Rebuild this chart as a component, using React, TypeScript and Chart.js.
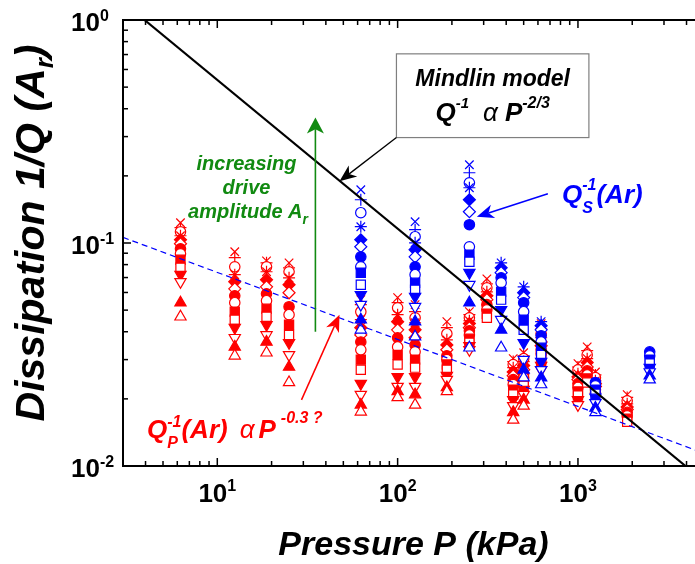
import React, { useEffect, useRef } from 'react';
import { Chart, registerables } from 'chart.js';

Chart.register(...registerables);

const FONT = '"Liberation Sans", Arial, Helvetica, sans-serif';
const RED = '#ff0000';
const BLUE = '#0000ff';
const GREEN = '#118a11';

// ---------- data: Q_P^-1 (red), one list per pressure column, values from lowest to highest drive amplitude ----------
const qpPressures = [6.25, 12.5, 18.75, 25, 62.5, 100, 125, 187.5, 250, 312.5, 437.5, 500, 625, 1000, 1125, 1250, 1875];
const qpAt6 = [0.0467, 0.054, 0.067, 0.0721, 0.0774, 0.0841, 0.0895, 0.0942, 0.0992, 0.1034, 0.1078, 0.1123, 0.1171, 0.1233];
const qpAt12 = [0.0312, 0.0342, 0.0376, 0.0417, 0.0453, 0.0492, 0.054, 0.058, 0.0623, 0.067, 0.0721, 0.0782, 0.0859, 0.0914];
const qpAt19 = [0.0322, 0.036, 0.0387, 0.043, 0.0467, 0.0507, 0.0551, 0.0592, 0.0636, 0.0684, 0.0743, 0.0782, 0.0815, 0.0832];
const qpAt25 = [0.0237, 0.0278, 0.0315, 0.0357, 0.0387, 0.043, 0.0477, 0.0518, 0.0598, 0.065, 0.0698, 0.0743, 0.0774, 0.0815];
const qpAt62 = [0.0175, 0.0188, 0.0209, 0.0234, 0.027, 0.03, 0.0332, 0.036, 0.0387, 0.0417, 0.0453, 0.0492, 0.0529, 0.0557];
const qpAt100 = [0.0203, 0.0216, 0.0227, 0.0251, 0.0285, 0.0315, 0.0342, 0.0376, 0.0408, 0.0444, 0.0477, 0.0512, 0.054, 0.0569];
const qpAt125 = [0.0188, 0.0209, 0.0227, 0.0251, 0.0276, 0.03, 0.0325, 0.0349, 0.0376, 0.0408, 0.0439, 0.0462, 0.0492, 0.0529];
const qpAt188 = [0.0216, 0.0225, 0.0244, 0.0254, 0.027, 0.0285, 0.03, 0.0312, 0.0332, 0.0349, 0.0368, 0.0392, 0.0417, 0.0444];
const qpAt250 = [null, null, 0.0332, 0.0346, 0.0357, 0.0372, 0.0387, 0.0404, 0.0417, 0.0435, 0.0448, 0.0462, 0.0477, 0.0492];
const qpAt312 = [null, null, null, null, 0.0462, 0.0482, 0.0502, 0.0529, 0.0557, 0.058, 0.0604, 0.063, 0.0656, 0.0691];
const qpAt438 = [0.0161, 0.0174, 0.0186, 0.0198, 0.0209, 0.022, 0.0232, 0.0244, 0.0254, 0.0264, 0.0276, 0.0285, 0.0294, 0.0303];
const qpAt500 = [0.0186, 0.0198, 0.0209, 0.022, 0.0229, 0.0239, 0.0249, 0.0259, 0.027, 0.0282, 0.0294, 0.0303, 0.0312, 0.0322];
const qpAt625 = [null, null, 0.027, 0.0282, 0.0294, 0.0306, 0.0319, 0.0332, 0.0346, 0.036, 0.0376, 0.0392, 0.0412, 0.0435];
const qpAt1000 = [null, null, 0.0188, 0.0198, 0.0207, 0.0216, 0.0225, 0.0234, 0.0244, 0.0251, 0.0259, 0.027, 0.0278, 0.0288];
const qpAt1125 = [null, null, null, null, 0.0237, 0.0247, 0.0256, 0.0267, 0.0278, 0.0291, 0.0303, 0.0315, 0.0329, 0.0342];
const qpAt1250 = [null, null, null, null, null, null, 0.0213, 0.022, 0.0227, 0.0234, 0.0241, 0.0249, 0.0256, 0.0264];
const qpAt1875 = [null, null, null, null, 0.0158, 0.0163, 0.0168, 0.0174, 0.0179, 0.0184, 0.019, 0.0196, 0.0203, 0.0209];
const qpColumns = [qpAt6, qpAt12, qpAt19, qpAt25, qpAt62, qpAt100, qpAt125, qpAt188, qpAt250, qpAt312, qpAt438, qpAt500, qpAt625, qpAt1000, qpAt1125, qpAt1250, qpAt1875];

// ---------- data: Q_S^-1 (blue) ----------
const qsPressures = [62.5, 125, 250, 375, 500, 625, 1250, 2500];
const qsAt62 = [0.0408, 0.0453, 0.0529, 0.0586, 0.065, 0.0736, 0.0782, 0.0867, 0.0962, 0.1034, 0.1183, 0.1367, 0.1563, 0.1733];
const qsAt125 = [0.038, 0.0444, 0.0518, 0.0575, 0.0617, 0.0663, 0.0721, 0.0782, 0.0867, 0.0933, 0.1002, 0.1067, 0.1147, 0.1246];
const qsAt250 = [0.0339, 0.054, 0.065, 0.0736, 0.0824, 0.0886, 0.0962, 0.1208, 0.1381, 0.1563, 0.1769, 0.1863, 0.2066, 0.2243];
const qsAt375 = [0.0339, 0.0408, 0.0453, 0.0502, 0.0557, 0.0604, 0.0663, 0.0698, 0.0736, 0.0774, 0.0815, null, null, null];
const qsAt500 = [0.0249, 0.027, 0.03, 0.0357, 0.0408, 0.0453, 0.0492, 0.054, 0.0569, 0.0598, 0.0636, null, null, null];
const qsAt625 = [0.0232, 0.0249, 0.027, 0.0294, 0.0315, 0.0339, 0.036, 0.0384, 0.0408, 0.0426, 0.0444, null, null, null];
const qsAt1250 = [0.0174, 0.0182, 0.0192, 0.0203, 0.0211, 0.022, 0.0229, 0.0237, null, null, null, null, null, null];
const qsAt2500 = [0.0244, 0.0254, 0.0264, 0.0276, 0.0288, 0.03, 0.0312, 0.0325, null, null, null, null, null, null];
const qsColumns = [qsAt62, qsAt125, qsAt250, qsAt375, qsAt500, qsAt625, qsAt1250, qsAt2500];

// ---------- model lines ----------
const mindlinP = [3.95, 3950];
const mindlinQ = [1, 0.01];
const fitP = [3, 5000];
const fitQ = [0.106, 0.0114];

// ---------- axes ----------
const xMin = 3;
const xMax = 5000;
const yMin = 0.01;
const yMax = 1;
const xMajorTicks = [10, 100, 1000];
const xTickExponents = ['1', '2', '3'];
const yMajorTicks = [0.01, 0.1, 1];
const yTickExponents = ['-2', '-1', '0'];

const markerStyles = [
  { style: 'triangle', fill: false, rot: 0, r: 6.5 },
  { style: 'triangle', fill: true, rot: 0, r: 6.5 },
  { style: 'triangle', fill: false, rot: 180, r: 6.5 },
  { style: 'triangle', fill: true, rot: 180, r: 6.5 },
  { style: 'rect', fill: false, rot: 0, r: 6.5 },
  { style: 'rect', fill: true, rot: 0, r: 6.5 },
  { style: 'circle', fill: false, rot: 0, r: 5.2 },
  { style: 'circle', fill: true, rot: 0, r: 5.2 },
  { style: 'rectRot', fill: false, rot: 0, r: 6 },
  { style: 'rectRot', fill: true, rot: 0, r: 6 },
  { style: 'star', fill: false, rot: 0, r: 6 },
  { style: 'circle', fill: false, rot: 0, r: 5.2 },
  { style: 'cross', fill: false, rot: 0, r: 6 },
  { style: 'crossRot', fill: false, rot: 0, r: 6 },
];

function levelDatasets(pressures: number[], columns: (number | null)[][], color: string, name: string) {
  return markerStyles.map((m, lvl) => ({
    label: `${name} ${lvl}`,
    data: pressures
      .map((p, i) => ({ x: p, y: columns[i][lvl] }))
      .filter((d) => d.y !== null && d.y !== undefined),
    showLine: false,
    pointStyle: m.style,
    pointRadius: m.r,
    pointRotation: m.rot,
    pointBorderWidth: 1.2,
    borderColor: color,
    pointBorderColor: color,
    backgroundColor: m.fill ? color : '#ffffff',
    pointBackgroundColor: m.fill ? color : '#ffffff',
  }));
}

type Seg =
  | { t: string; size: number; dy?: number; bold?: boolean; italic?: boolean }
  | { gap: number }
  | { sup: string; sub: string; size: number; supDy: number; subDy: number; bold?: boolean; italic?: boolean };

function fontStr(size: number, bold = true, italic = true) {
  return `${italic ? 'italic ' : ''}${bold ? 'bold ' : ''}${size}px ${FONT}`;
}

function drawRich(ctx: CanvasRenderingContext2D, segs: Seg[], x: number, y: number, align: 'left' | 'center' | 'right', color: string) {
  const widths = segs.map((s: any) => {
    if ('gap' in s) return s.gap;
    if ('sup' in s) {
      ctx.font = fontStr(s.size, s.bold !== false, s.italic !== false);
      return Math.max(ctx.measureText(s.sup).width, ctx.measureText(s.sub).width);
    }
    ctx.font = fontStr(s.size, s.bold !== false, s.italic !== false);
    return ctx.measureText(s.t).width;
  });
  const total = widths.reduce((a, b) => a + b, 0);
  let cx = align === 'left' ? x : align === 'center' ? x - total / 2 : x - total;
  ctx.fillStyle = color;
  ctx.textAlign = 'left';
  ctx.textBaseline = 'alphabetic';
  segs.forEach((s: any, i) => {
    if ('sup' in s) {
      ctx.font = fontStr(s.size, s.bold !== false, s.italic !== false);
      ctx.fillText(s.sup, cx, y + s.supDy);
      ctx.fillText(s.sub, cx, y + s.subDy);
    } else if ('t' in s) {
      ctx.font = fontStr(s.size, s.bold !== false, s.italic !== false);
      ctx.fillText(s.t, cx, y + (s.dy || 0));
    }
    cx += widths[i];
  });
}

function arrow(ctx: CanvasRenderingContext2D, x0: number, y0: number, x1: number, y1: number, color: string, lw: number, headLen: number, headHalf: number) {
  const ang = Math.atan2(y1 - y0, x1 - x0);
  const ux = Math.cos(ang);
  const uy = Math.sin(ang);
  const nx = -uy;
  const ny = ux;
  const notchX = x1 - ux * headLen * 0.72;
  const notchY = y1 - uy * headLen * 0.72;
  ctx.strokeStyle = color;
  ctx.lineWidth = lw;
  ctx.beginPath();
  ctx.moveTo(x0, y0);
  ctx.lineTo(notchX, notchY);
  ctx.stroke();
  const bx = x1 - ux * headLen;
  const by = y1 - uy * headLen;
  ctx.fillStyle = color;
  ctx.beginPath();
  ctx.moveTo(x1, y1);
  ctx.lineTo(bx + nx * headHalf, by + ny * headHalf);
  ctx.lineTo(notchX, notchY);
  ctx.lineTo(bx - nx * headHalf, by - ny * headHalf);
  ctx.closePath();
  ctx.fill();
}

const overlayPlugin = {
  id: 'overlay',
  afterDraw(chart: any) {
    const ctx: CanvasRenderingContext2D = chart.ctx;
    const ca = chart.chartArea;
    const xs = chart.scales.x;
    const ys = chart.scales.y;
    const X = (v: number) => xs.getPixelForValue(v);
    const Y = (v: number) => ys.getPixelForValue(v);
    ctx.save();

    // frame
    ctx.strokeStyle = '#000';
    ctx.lineWidth = 2;
    ctx.strokeRect(ca.left, ca.top, ca.right - ca.left, ca.bottom - ca.top);

    // ticks (inward, mirrored)
    ctx.lineWidth = 1.5;
    const seg = (a: number, b: number, c: number, d: number) => {
      ctx.beginPath();
      ctx.moveTo(a, b);
      ctx.lineTo(c, d);
      ctx.stroke();
    };
    for (let e = 0; e <= 3; e++) {
      for (let k = 1; k <= 9; k++) {
        const v = k * Math.pow(10, e);
        if (v < xMin || v > xMax) continue;
        const len = k === 1 ? 8 : 5;
        const x = X(v);
        seg(x, ca.bottom, x, ca.bottom - len);
        seg(x, ca.top, x, ca.top + len);
      }
    }
    for (let e = -2; e <= 0; e++) {
      for (let k = 1; k <= 9; k++) {
        const v = k * Math.pow(10, e);
        if (v < yMin - 1e-9 || v > yMax + 1e-9) continue;
        const len = k === 1 ? 8 : 5;
        const y = Y(v);
        seg(ca.left, y, ca.left + len, y);
        seg(ca.right, y, ca.right - len, y);
      }
    }

    // tick labels
    xMajorTicks.forEach((v, i) => {
      drawRich(ctx, [
        { t: '10', size: 26, bold: true, italic: false },
        { t: xTickExponents[i], size: 16, dy: -11, bold: true, italic: false },
      ], X(v), 502, 'center', '#000');
    });
    yMajorTicks.forEach((v, i) => {
      const y = Y(v);
      drawRich(ctx, [{ t: '10', size: 26, bold: true, italic: false }], 100, y + 10.5, 'right', '#000');
      drawRich(ctx, [{ t: yTickExponents[i], size: 16, bold: true, italic: false }], 100, y + 0.5, 'left', '#000');
    });

    // axis titles
    drawRich(ctx, [{ t: 'Pressure P (kPa)', size: 34 }], (ca.left + ca.right) / 2, 555, 'center', '#000');
    ctx.save();
    ctx.translate(44, 233);
    ctx.rotate(-Math.PI / 2);
    drawRich(ctx, [
      { t: 'Dissipation 1/Q (A', size: 41 },
      { t: 'r', size: 26, dy: 9 },
      { t: ')', size: 41 },
    ], 0, 0, 'center', '#000');
    ctx.restore();

    // green arrow + text
    arrow(ctx, X(35), Y(0.04), X(35), Y(0.365), GREEN, 1.6, 16, 8.5);
    drawRich(ctx, [{ t: 'increasing', size: 20 }], 246.5, 170, 'center', GREEN);
    drawRich(ctx, [{ t: 'drive', size: 20 }], 246.5, 194, 'center', GREEN);
    drawRich(ctx, [{ t: 'amplitude A', size: 20 }, { t: 'r', size: 14, dy: 6 }], 248, 218, 'center', GREEN);

    // Mindlin box
    const bl = X(98.5), br = X(1150), bt = Y(0.705), bb = Y(0.297);
    ctx.fillStyle = '#ffffff';
    ctx.fillRect(bl, bt, br - bl, bb - bt);
    ctx.strokeStyle = '#7f7f7f';
    ctx.lineWidth = 1.2;
    ctx.strokeRect(bl, bt, br - bl, bb - bt);
    const bc = (bl + br) / 2;
    drawRich(ctx, [{ t: 'Mindlin model', size: 23 }], bc, bt + 32, 'center', '#000');
    drawRich(ctx, [
      { t: 'Q', size: 26 },
      { t: '-1', size: 15, dy: -13 },
      { gap: 14 },
      { t: 'α', size: 26, bold: false },
      { gap: 7 },
      { t: 'P', size: 26 },
      { t: '-2/3', size: 16, dy: -13 },
    ], bc, bt + 67.5, 'center', '#000');

    // black arrow to Mindlin line
    arrow(ctx, bl, bb, X(47.6), Y(0.189), '#000', 1.3, 17, 7);

    // blue annotation
    arrow(ctx, X(681), Y(0.1664), X(275), Y(0.1312), BLUE, 1.5, 17, 7);
    drawRich(ctx, [
      { t: 'Q', size: 26 },
      { sup: '-1', sub: 'S', size: 16, supDy: -13, subDy: 10 },
      { t: '(Ar)', size: 26 },
    ], 562, 203, 'left', BLUE);

    // red annotation
    arrow(ctx, X(29.3), Y(0.0198), X(47.6), Y(0.0477), RED, 1.5, 17, 7);
    drawRich(ctx, [
      { t: 'Q', size: 26 },
      { sup: '-1', sub: 'P', size: 16, supDy: -11, subDy: 10 },
      { t: '(Ar)', size: 26 },
      { gap: 12 },
      { t: 'α', size: 26, bold: false },
      { gap: 4 },
      { t: 'P', size: 26 },
      { gap: 5 },
      { t: '-0.3 ?', size: 16, dy: -15 },
    ], 147, 438, 'left', RED);

    ctx.restore();
  },
};

const CANVAS_W = 720;
const CANVAS_H = 564;

export default function App() {
  const ref = useRef<HTMLCanvasElement | null>(null);
  useEffect(() => {
    if (!ref.current) return;
    const datasets: any[] = [
      {
        label: 'Mindlin',
        data: mindlinP.map((p, i) => ({ x: p, y: mindlinQ[i] })),
        showLine: true,
        borderColor: '#000',
        borderWidth: 2.2,
        pointRadius: 0,
      },
      {
        label: 'fit',
        data: fitP.map((p, i) => ({ x: p, y: fitQ[i] })),
        showLine: true,
        borderColor: BLUE,
        borderWidth: 1.2,
        borderDash: [6, 4],
        pointRadius: 0,
      },
      ...levelDatasets(qsPressures, qsColumns, BLUE, 'QS'),
      ...levelDatasets(qpPressures, qpColumns, RED, 'QP'),
    ];
    const chart = new Chart(ref.current, {
      type: 'scatter',
      data: { datasets },
      options: {
        responsive: false,
        animation: false,
        events: [],
        layout: { padding: { left: 123, top: 20, right: CANVAS_W - 704, bottom: CANVAS_H - 466 } },
        scales: {
          x: { type: 'logarithmic', min: xMin, max: xMax, display: false },
          y: { type: 'logarithmic', min: yMin, max: yMax, display: false },
        },
        plugins: { legend: { display: false }, tooltip: { enabled: false } },
      },
      plugins: [overlayPlugin],
    } as any);
    return () => chart.destroy();
  }, []);
  return (
    <div style={{ position: 'fixed', left: 0, top: 0, width: 695, height: 564, overflow: 'hidden', background: '#fff' }}>
      <canvas ref={ref} width={CANVAS_W} height={CANVAS_H} style={{ display: 'block' }} />
    </div>
  );
}
